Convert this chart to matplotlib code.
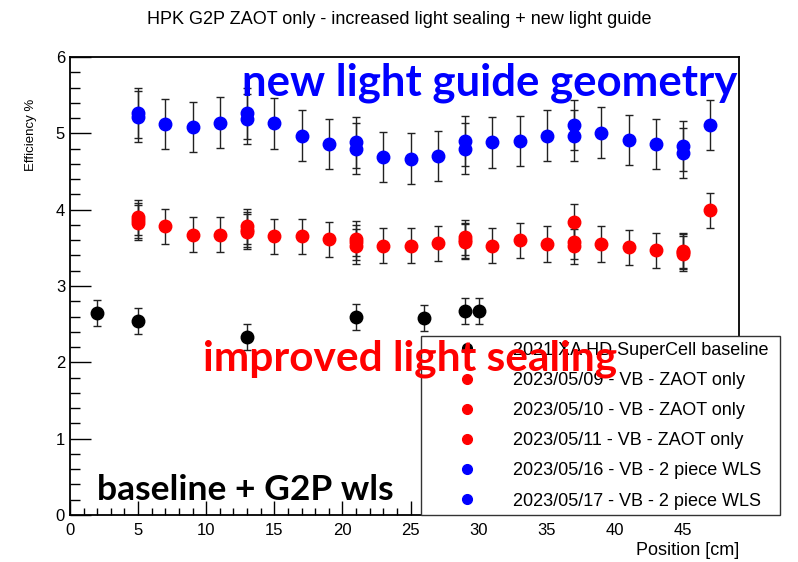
import matplotlib
matplotlib.use("Agg")
import matplotlib.pyplot as plt
from matplotlib.lines import Line2D
from matplotlib.ticker import MultipleLocator

plt.rcParams["font.family"] = ["Liberation Sans", "DejaVu Sans"]

# scan positions (cm)
pos_all = [5, 7, 9, 11, 13, 15, 17, 19, 21, 23, 25, 27, 29, 31, 33, 35, 37, 39, 41, 43, 45, 47]
pos_rep = [5, 13, 21, 29, 37, 45]

# 2021 XA HD SuperCell baseline
base_pos = [2, 5, 13, 21, 26, 29, 30]
base_eff = [2.65, 2.54, 2.33, 2.59, 2.58, 2.67, 2.67]
base_err = 0.17

# ZAOT only runs
zaot_0509 = [3.90, 3.78, 3.67, 3.67, 3.78, 3.65, 3.65, 3.61, 3.62, 3.53, 3.53,
             3.56, 3.64, 3.53, 3.60, 3.55, 3.84, 3.55, 3.51, 3.47, 3.46, 3.99]
zaot_0510 = [3.83, 3.74, 3.57, 3.58, 3.58, 3.42]
zaot_0511 = [3.86, 3.71, 3.52, 3.60, 3.52, 3.45]
zaot_err = 0.23

# 2 piece WLS runs
wls_0516 = [5.27, 5.12, 5.08, 5.14, 5.26, 5.13, 4.97, 4.86, 4.88, 4.69, 4.67,
            4.70, 4.90, 4.88, 4.90, 4.97, 5.11, 5.01, 4.91, 4.86, 4.83, 5.11]
wls_0517 = [5.22, 5.19, 4.80, 4.80, 4.97, 4.74]
wls_err = 0.33

labels = ["2021 XA HD SuperCell baseline",
          "2023/05/09 - VB - ZAOT only",
          "2023/05/10 - VB - ZAOT only",
          "2023/05/11 - VB - ZAOT only",
          "2023/05/16 - VB - 2 piece WLS",
          "2023/05/17 - VB - 2 piece WLS"]
colors = ["black", "#ff0000", "#ff0000", "#ff0000", "#0000ff", "#0000ff"]

fig = plt.figure(figsize=(7.98, 5.62), dpi=100)
ax = fig.add_axes([0.0877, 0.0836, 0.8383, 0.815])

series = [(base_pos, base_eff, base_err),
          (pos_all, zaot_0509, zaot_err),
          (pos_rep, zaot_0510, zaot_err),
          (pos_rep, zaot_0511, zaot_err),
          (pos_all, wls_0516, wls_err),
          (pos_rep, wls_0517, wls_err)]

for (x, y, e), c in zip(series, colors):
    ax.errorbar(x, y, yerr=e, fmt="o", color=c, ms=9, mec=c,
                ecolor="#222222", elinewidth=1.0, capsize=3, capthick=1.0)

ax.set_xlim(0, 49.1)
ax.set_ylim(0, 6)
ax.xaxis.set_major_locator(MultipleLocator(5))
ax.xaxis.set_minor_locator(MultipleLocator(1))
ax.yaxis.set_major_locator(MultipleLocator(1))
ax.yaxis.set_minor_locator(MultipleLocator(0.2))
ax.set_xticks(range(0, 50, 5))
ax.tick_params(which="both", direction="in", labelsize=12, colors="black")
ax.tick_params(axis="y", which="major", length=15, width=1)
ax.tick_params(axis="y", which="minor", length=7, width=1)
ax.tick_params(axis="x", which="major", length=10, width=1, pad=6)
ax.tick_params(axis="x", which="minor", length=5, width=1)
for s in ax.spines.values():
    s.set_linewidth(1.3)

ax.set_xlabel("Position [cm]", fontsize=13, ha="right")
ax.xaxis.set_label_coords(1.0, -0.06)
ax.set_ylabel("Efficiency %", fontsize=9.5)
ax.yaxis.set_label_coords(-0.05, 0.83)

fig.suptitle("HPK G2P ZAOT only - increased light sealing + new light guide",
             fontsize=13, y=0.98)

handles = [Line2D([], [], marker="o", ls="none", color=c, ms=7) for c in colors]
leg = ax.legend(handles, labels, loc="lower left",
                bbox_to_anchor=(0.525, 0.0, 0.536, 0.38), mode="expand",
                borderaxespad=0, fontsize=13, fancybox=False, edgecolor="#333333",
                framealpha=1, labelspacing=0.73, handlelength=4.5,
                handletextpad=0.29, borderpad=0.3)
leg.get_frame().set_linewidth(1.0)
leg.set_zorder(5)

big = dict(fontfamily="Lato", fontweight="bold", ha="center", va="center",
           zorder=10)
ax.text(30.8, 5.66, "new light guide geometry", color="#0000ff", fontsize=31.5, **big)
ax.text(24.96, 2.05, "improved light sealing", color="#ff0000", fontsize=30.5, **big)
ax.text(12.85, 0.33, "baseline + G2P wls", color="black", fontsize=25.5, **big)

fig.savefig("out.png", dpi=100)
